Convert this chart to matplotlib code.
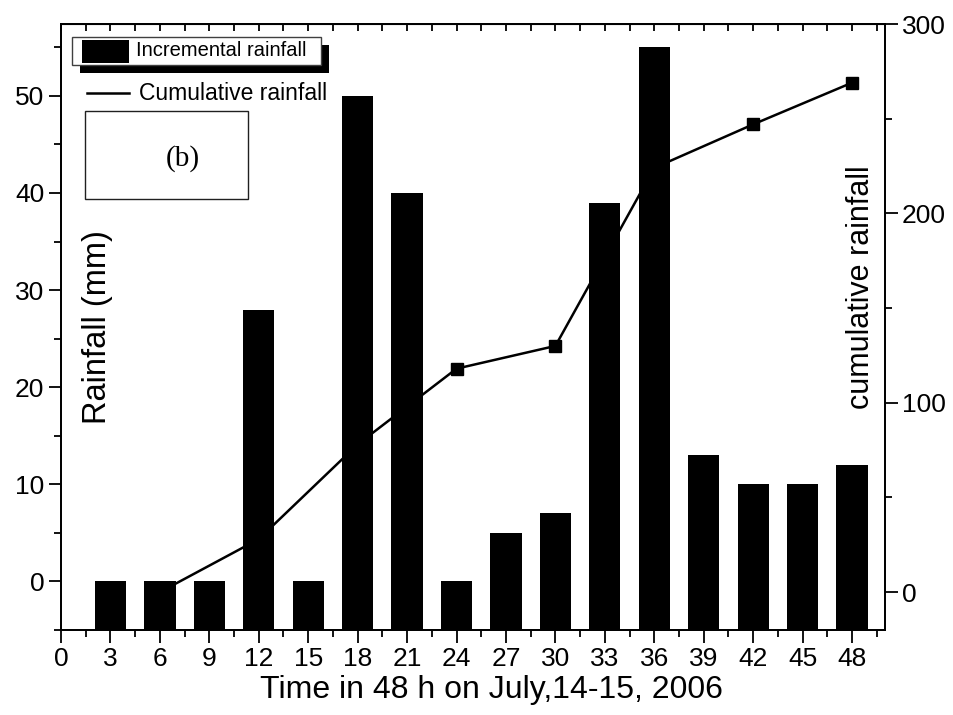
import numpy as np
import matplotlib.pyplot as plt
from matplotlib.patches import Rectangle
from matplotlib.lines import Line2D
from matplotlib.ticker import MultipleLocator

plt.rcParams['font.family'] = ['Liberation Sans', 'DejaVu Sans']

# incremental rainfall every 3 h (mm)
hours = [3, 6, 9, 12, 15, 18, 21, 24, 27, 30, 33, 36, 39, 42, 45, 48]
rain = [0, 0, 0, 28, 0, 50, 40, 0, 5, 7, 39, 55, 13, 10, 10, 12]

# cumulative rainfall every 6 h
cum_hours = [6, 12, 18, 24, 30, 36, 42, 48]
cum_rain = [0, 28, 78, 118, 130, 224, 247, 269]

W, H = 954, 715
fig = plt.figure(figsize=(W / 100, H / 100), dpi=100)
ax1 = fig.add_axes([61 / W, 1 - 630 / H, (885 - 61) / W, (630 - 24) / H])
ax2 = ax1.twinx()

# bars are drawn from the bottom of the axis
ybot = -5
ax1.bar(hours, np.array(rain) - ybot, bottom=ybot, width=1.9, color='black', zorder=3)
ax2.plot(cum_hours, cum_rain, color='black', lw=1.8, marker='s', ms=9)

# bars above the line
ax1.set_zorder(ax2.get_zorder() + 1)
ax1.patch.set_visible(False)
ax2.patch.set_visible(True)
ax2.patch.set_facecolor('white')

ax1.set_xlim(0, 50)
ax1.set_ylim(ybot, 57.4)
ax2.set_ylim(-20, 300)

ax1.xaxis.set_major_locator(MultipleLocator(3))
ax1.xaxis.set_minor_locator(MultipleLocator(1.5))
ax1.yaxis.set_major_locator(MultipleLocator(10))
ax1.yaxis.set_minor_locator(MultipleLocator(5))
ax2.yaxis.set_major_locator(MultipleLocator(100))
ax2.yaxis.set_minor_locator(MultipleLocator(50))

for ax in (ax1, ax2):
    ax.tick_params(which='major', length=9, width=1.3, labelsize=19, direction='out')
    ax.tick_params(which='minor', length=5, width=1.3, direction='out')
    for s in ax.spines.values():
        s.set_linewidth(1.3)
ax1.tick_params(axis='y', pad=3)
ax2.tick_params(axis='y', pad=3)
ax1.tick_params(axis='x', pad=3)

top = ax1.secondary_xaxis('top')
top.xaxis.set_major_locator(MultipleLocator(3))
top.xaxis.set_minor_locator(MultipleLocator(1.5))
top.tick_params(which='both', direction='in', length=5, width=1.3, labeltop=False)

ax1.set_xlabel('Time in 48 h on July,14-15, 2006', fontsize=23)
ax1.xaxis.set_label_coords(0.522, -0.075)
ax1.set_ylabel('Rainfall (mm)', fontsize=23.5)
ax1.yaxis.set_label_coords(0.044, 0.5)
ax1.yaxis.label.set_va('center')
ax2.set_ylabel('cumulative rainfall', fontsize=22)
ax2.yaxis.set_label_coords(0.971, 0.565)
ax2.yaxis.label.set_va('center')


def px(x, y):
    return x / W, 1 - y / H


tf = fig.transFigure
# legend drawn by hand with a solid shadow
ax1.add_artist(Rectangle(px(80, 73), 249 / W, 28 / H, transform=tf, facecolor='black',
                         edgecolor='none', zorder=6, clip_on=False))
ax1.add_artist(Rectangle(px(72, 65), 249 / W, 28 / H, transform=tf, facecolor='white',
                         edgecolor='#404040', lw=1, zorder=7, clip_on=False))
ax1.add_artist(Rectangle(px(82, 63), 47 / W, 23 / H, transform=tf, facecolor='black',
                         edgecolor='none', zorder=8, clip_on=False))
ax1.text(*px(136, 51), 'Incremental rainfall', transform=tf, fontsize=14.5,
         va='center', ha='left', zorder=8)
ax1.add_artist(Line2D([87 / W, 129 / W], [1 - 93 / H, 1 - 93 / H], transform=tf,
                      color='black', lw=1.8, zorder=8))
ax1.text(*px(139, 94), 'Cumulative rainfall', transform=tf, fontsize=16.5,
         va='center', ha='left', zorder=8)
ax1.add_artist(Rectangle(px(85, 199), 163 / W, 88 / H, transform=tf, facecolor='white',
                         edgecolor='#202020', lw=1, zorder=7, clip_on=False))
ax1.text(*px(183, 159), '(b)', transform=tf, fontsize=21, family='Liberation Serif',
         va='center', ha='center', zorder=8)

fig.savefig('out.png', dpi=100)
